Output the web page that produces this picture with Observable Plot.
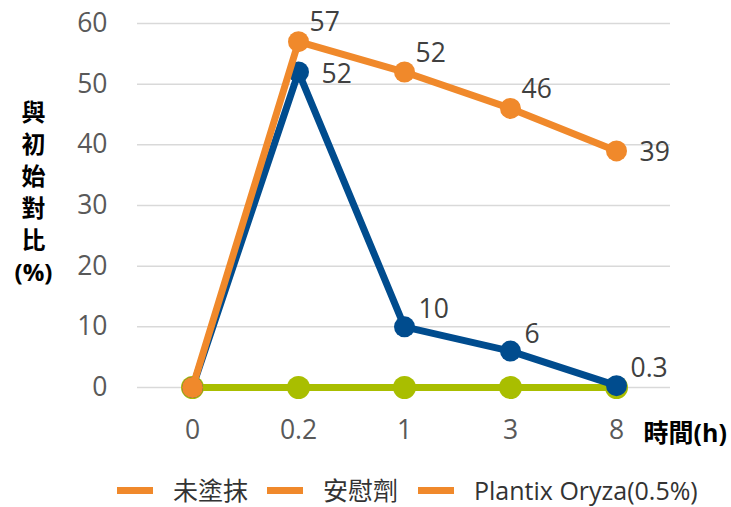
<!DOCTYPE html>
<html><head><meta charset="utf-8">
<script src="https://cdn.jsdelivr.net/npm/d3@7"></script>
<script src="https://cdn.jsdelivr.net/npm/@observablehq/plot@0.6"></script>
<style>
body{margin:0;background:#fff;font-family:"Open Sans","Noto Sans CJK TC",sans-serif;}
#wrap{position:relative;width:731px;height:507px;overflow:hidden;}
#wrap svg{position:absolute;left:0;top:0;}
.leg{position:absolute;top:476px;display:flex;align-items:center;font-size:25px;line-height:28px;color:#333;white-space:nowrap;}
.sw{width:36px;height:7px;background:#F0892B;margin-right:20px;}
</style></head><body><div id="wrap"></div>
<script>
const times = ["0", "0.2", "1", "3", "8"];
const untreated = [0, 0, 0, 0, 0];
const placebo = [0, 52, 10, 6, 0.3];
const plantix = [0, 57, 52, 46, 39];
const seriesNames = ["未塗抹", "安慰劑", "Plantix Oryza(0.5%)"];
const yTicks = [0, 10, 20, 30, 40, 50, 60];
const yTitle = "與\n初\n始\n對\n比\n(%)";
const xTitle = "時間(h)";

const colGreen = "#A9BE00", colBlue = "#004C8E", colOrange = "#F0892B";

const toRows = (vals) => times.map((t, i) => ({t, v: vals[i], i}));
const gData = toRows(untreated), bData = toRows(placebo), oData = toRows(plantix);

// labels: skip the start point; some labels sit right of the point, others above-right
const bLab = bData.filter(d => d.i > 0), oLab = oData.filter(d => d.i > 0);
const rightOf = (arr, idx) => arr.filter(d => d.i === idx);
const aboveOf = (arr, idx) => arr.filter(d => d.i !== idx);

const labelStyle = {x: "t", y: "v", text: d => String(d.v), fontSize: 26.5, fill: "#404040", textAnchor: "start", lineAnchor: "middle"};

const plot = Plot.plot({
  width: 731, height: 460,
  marginLeft: 137, marginRight: 61, marginTop: 23, marginBottom: 73,
  style: {fontFamily: "'Open Sans','Noto Sans CJK TC',sans-serif", background: "transparent"},
  x: {type: "point", domain: times, padding: 0.5, label: null},
  y: {domain: [0, 60], label: null},
  marks: [
    Plot.gridY(yTicks, {stroke: "#d9d9d9", strokeOpacity: 1, strokeWidth: 1.5}),
    Plot.axisY({ticks: yTicks, tickSize: 0, tickPadding: 30, fontSize: 26.5, color: "#595959", label: null}),
    Plot.axisX({tickSize: 0, tickPadding: 33, fontSize: 26.5, color: "#595959", label: null}),
    Plot.line(gData, {x: "t", y: "v", stroke: colGreen, strokeWidth: 7}),
    Plot.dot(gData, {x: "t", y: "v", r: 11.5, fill: colGreen}),
    Plot.line(bData, {x: "t", y: "v", stroke: colBlue, strokeWidth: 7}),
    Plot.dot(bData, {x: "t", y: "v", r: 10.5, fill: colBlue}),
    Plot.line(oData, {x: "t", y: "v", stroke: colOrange, strokeWidth: 7}),
    Plot.dot(oData, {x: "t", y: "v", r: 10.5, fill: colOrange}),
    Plot.text(aboveOf(bLab, 1), {...labelStyle, dx: 14, dy: -17}),
    Plot.text(rightOf(bLab, 1), {...labelStyle, dx: 23, dy: 2}),
    Plot.text(aboveOf(oLab, 4), {...labelStyle, dx: 11, dy: -19}),
    Plot.text(rightOf(oLab, 4), {...labelStyle, dx: 23, dy: 2}),
    Plot.text([yTitle], {text: d => d, frameAnchor: "left", dx: -104, dy: -15, lineAnchor: "middle", textAnchor: "middle", lineHeight: 1.33, fontSize: 24, fontWeight: "bold", fill: "#000"}),
    Plot.text([xTitle], {text: d => d, frameAnchor: "bottom-right", dx: -27, dy: 46, lineAnchor: "middle", textAnchor: "start", fontSize: 25, fontWeight: "bold", fill: "#000"})
  ]
});
const wrap = document.getElementById("wrap");
wrap.appendChild(plot);

const legLefts = [117, 267, 418];
seriesNames.forEach((name, i) => {
  const item = document.createElement("div");
  item.className = "leg";
  item.style.left = legLefts[i] + "px";
  const sw = document.createElement("span");
  sw.className = "sw";
  const tx = document.createElement("span");
  tx.textContent = name;
  item.appendChild(sw); item.appendChild(tx);
  wrap.appendChild(item);
});
</script></body></html>
